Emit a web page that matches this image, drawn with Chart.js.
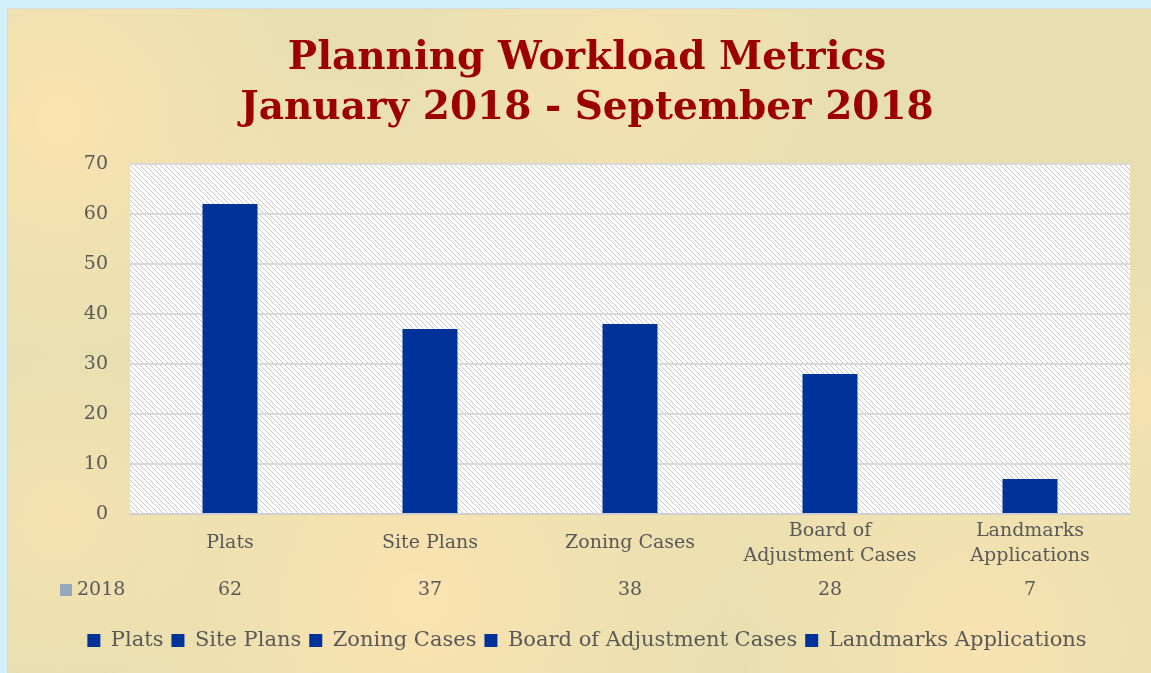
<!DOCTYPE html>
<html>
<head>
<meta charset="utf-8">
<script src="https://cdn.jsdelivr.net/npm/chart.js@4.4.0/dist/chart.umd.min.js"></script>
<style>
  html, body { margin: 0; padding: 0; background: #d3eff9; }
  #wrap { width: 1151px; height: 673px; position: relative; }
</style>
</head>
<body>
<div id="wrap"><canvas id="workloadChart" width="1151" height="673"></canvas></div>
<script>
// Categorías y valores (enero - septiembre 2018)
const categorias = [
    'Plats',
    'Site Plans',
    'Zoning Cases',
    ['Board of', 'Adjustment Cases'],
    ['Landmarks', 'Applications']
];
const nombresLeyenda = ['Plats', 'Site Plans', 'Zoning Cases', 'Board of Adjustment Cases', 'Landmarks Applications'];
const serieNombre = '2018';
const valores2018 = [62, 37, 38, 28, 7];
const yTicks = [0, 10, 20, 30, 40, 50, 60, 70];

const AZUL = '#003399';
const GRIS_TEXTO = '#595959';
const SERIF = '"DejaVu Serif", "Liberation Serif", serif';

// Patrón rayado del área de trazado
function crearRayado() {
    const c = document.createElement('canvas');
    c.width = 5; c.height = 5;
    const g = c.getContext('2d');
    g.fillStyle = '#ffffff';
    g.fillRect(0, 0, 5, 5);
    g.fillStyle = '#c9c9c9';
    for (let i = 0; i < 5; i++) {
        g.fillRect(i, i, 1, 1);
    }
    return g.createPattern(c, 'repeat');
}

// Fondo del panel y del área de trazado
const fondoPlugin = {
    id: 'fondo',
    beforeDraw(chart) {
        const ctx = chart.ctx;
        const { width, height, chartArea } = chart;
        ctx.save();
        ctx.fillStyle = '#d3eff9';
        ctx.fillRect(0, 0, width, height);
        ctx.fillStyle = '#e7dfb0';
        ctx.fillRect(7, 8, width - 7, height - 8);
        ctx.strokeStyle = '#d6dce0';
        ctx.lineWidth = 1;
        ctx.strokeRect(7.5, 8.5, width, height);

        // manchas claras del fondo
        const manchas = [
            [60, 120, 260, 0.8], [330, 240, 200, 0.5], [620, 60, 230, 0.6],
            [420, 600, 330, 0.8], [980, 640, 260, 0.7], [1130, 400, 140, 0.6],
            [60, 520, 180, 0.6], [760, 420, 220, 0.4]
        ];
        ctx.beginPath();
        ctx.rect(8, 9, width - 8, height - 9);
        ctx.clip();
        manchas.forEach(([x, y, r, a]) => {
            const grad = ctx.createRadialGradient(x, y, 0, x, y, r);
            grad.addColorStop(0, `rgba(255, 228, 176, ${a})`);
            grad.addColorStop(1, 'rgba(255, 228, 176, 0)');
            ctx.fillStyle = grad;
            ctx.fillRect(x - r, y - r, r * 2, r * 2);
        });
        ctx.restore();

        ctx.save();
        ctx.fillStyle = crearRayado();
        ctx.fillRect(chartArea.left, chartArea.top, chartArea.right - chartArea.left, chartArea.bottom - chartArea.top);
        ctx.restore();
    }
};

// Fila de la tabla de datos bajo el eje X
const tablaDatosPlugin = {
    id: 'tablaDatos',
    afterDraw(chart) {
        const ctx = chart.ctx;
        const x = chart.scales.x;
        const y = x.top + 76;
        ctx.save();
        ctx.font = '19px ' + SERIF;
        ctx.fillStyle = GRIS_TEXTO;
        ctx.textAlign = 'center';
        ctx.textBaseline = 'middle';
        valores2018.forEach((v, i) => {
            ctx.fillText(String(v), x.getPixelForValue(i), y);
        });
        ctx.fillStyle = '#94a9be';
        ctx.fillRect(60, y - 6, 12, 12);
        ctx.fillStyle = GRIS_TEXTO;
        ctx.textAlign = 'left';
        ctx.fillText(serieNombre, 77, y);
        ctx.restore();
    }
};

const ctx = document.getElementById('workloadChart').getContext('2d');
const workloadChart = new Chart(ctx, {
    type: 'bar',
    data: {
        labels: categorias,
        datasets: [{
            label: serieNombre,
            data: valores2018,
            backgroundColor: AZUL,
            barPercentage: 0.275,
            categoryPercentage: 1
        }]
    },
    options: {
        responsive: false,
        animation: false,
        layout: { padding: { left: 44, right: 21, top: 0, bottom: 12 } },
        scales: {
            x: {
                grid: { display: false, drawTicks: false },
                border: { color: '#d0d0d0', width: 2 },
                ticks: {
                    color: GRIS_TEXTO,
                    font: { family: SERIF, size: 19, lineHeight: 1.3 },
                    padding: 17,
                    crossAlign: 'center',
                    maxRotation: 0,
                    autoSkip: false
                },
                afterFit(scale) { scale.height = 108; }
            },
            y: {
                min: 0,
                max: 70,
                afterBuildTicks(scale) {
                    scale.ticks = yTicks.map(v => ({ value: v }));
                },
                grid: { color: '#d9d9d9', lineWidth: 2, drawTicks: false },
                border: { display: false },
                ticks: {
                    color: GRIS_TEXTO,
                    font: { family: SERIF, size: 19 },
                    padding: 22
                },
                afterFit(scale) { scale.width = 86; }
            }
        },
        plugins: {
            title: {
                display: true,
                text: ['Planning Workload Metrics', 'January 2018 - September 2018'],
                color: '#9c0000',
                font: { family: SERIF, size: 39, weight: 'bold', lineHeight: 1.282 },
                padding: { top: 34, bottom: 30 }
            },
            legend: {
                position: 'bottom',
                onClick: null,
                labels: {
                    color: GRIS_TEXTO,
                    font: { family: SERIF, size: 21 },
                    boxWidth: 13,
                    boxHeight: 13,
                    padding: 8,
                    generateLabels() {
                        return nombresLeyenda.map((n, i) => ({
                            text: n,
                            fillStyle: AZUL,
                            strokeStyle: AZUL,
                            fontColor: GRIS_TEXTO,
                            lineWidth: 0,
                            hidden: false,
                            index: i
                        }));
                    }
                }
            },
            tooltip: { enabled: false }
        }
    },
    plugins: [fondoPlugin, tablaDatosPlugin]
});
</script>
</body>
</html>
